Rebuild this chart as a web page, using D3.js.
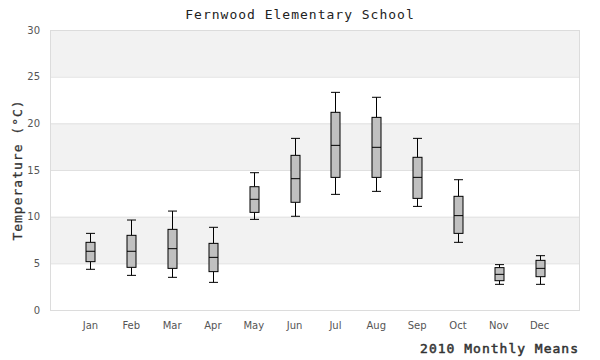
<!DOCTYPE html>
<html><head><meta charset="utf-8">
<script src="https://cdn.jsdelivr.net/npm/d3@7"></script>
<style>body{margin:0;background:#fff}</style>
</head><body>
<svg id="c" width="600" height="360"></svg>
<script>
const months = ["Jan","Feb","Mar","Apr","May","Jun","Jul","Aug","Sep","Oct","Nov","Dec"];
const whiskerLow  = [4.36,3.71,3.5,2.96,9.71,10.04,12.39,12.71,11.1,7.25,2.75,2.75];
const q1          = [5.18,4.57,4.46,4.11,10.46,11.54,14.21,14.21,11.96,8.21,3.14,3.57];
const median      = [6.29,6.29,6.57,5.64,11.86,14.07,17.64,17.43,14.21,10.11,3.82,4.46];
const q3          = [7.25,8.0,8.64,7.14,13.21,16.57,21.18,20.64,16.36,12.18,4.54,5.32];
const whiskerHigh = [8.21,9.64,10.6,8.86,14.71,18.39,23.32,22.79,18.39,13.96,4.86,5.82];
const yTicks = [0,5,10,15,20,25,30];

const svg = d3.select("#c");
const L=50,R=580,T=30,B=310;
const x = d3.scaleBand().domain(months).range([70,560]);
const y = d3.scaleLinear().domain([0,30]).range([B,T]);

// bands
const bands = d3.range(0,30,5);
svg.append("g").selectAll("rect").data(bands).join("rect")
  .attr("x",L).attr("width",R-L)
  .attr("y",d=>y(d+5)).attr("height",d=>y(d)-y(d+5))
  .attr("fill",d=>(d/5)%2===1?"#f2f2f2":"#ffffff");
// grid
svg.append("g").selectAll("line").data(yTicks).join("line")
  .attr("x1",L).attr("x2",R).attr("y1",d=>y(d)+0.5).attr("y2",d=>y(d)+0.5)
  .attr("stroke","#e0e0e0");
svg.append("rect").attr("x",L+0.5).attr("y",T+0.5).attr("width",R-L-1).attr("height",B-T)
  .attr("fill","none").attr("stroke","#dcdcdc");

// y axis
const ya = svg.append("g").attr("transform",`translate(${L},0)`)
  .call(d3.axisLeft(y).tickValues(yTicks).tickSize(0).tickPadding(10));
ya.select(".domain").remove();
ya.selectAll("text").attr("font-family","DejaVu Sans").attr("font-size",10).attr("fill","#555");

// x axis
const xa = svg.append("g").attr("transform",`translate(0,${B})`)
  .call(d3.axisBottom(x).tickSize(0).tickPadding(12));
xa.select(".domain").remove();
xa.selectAll("text").attr("font-family","DejaVu Sans").attr("font-size",10).attr("fill","#555");

// boxes
const bw = 9;
const data = months.map((m,i)=>({m,lo:whiskerLow[i],q1:q1[i],med:median[i],q3:q3[i],hi:whiskerHigh[i]}));
const g = svg.append("g").selectAll("g").data(data).join("g")
  .attr("transform",d=>`translate(${Math.round(x(d.m)+x.bandwidth()/2)+0.5},0)`);
g.append("line").attr("x1",0).attr("x2",0).attr("y1",d=>y(d.hi)).attr("y2",d=>y(d.q3)).attr("stroke","#000");
g.append("line").attr("x1",0).attr("x2",0).attr("y1",d=>y(d.q1)).attr("y2",d=>y(d.lo)).attr("stroke","#000");
g.append("line").attr("x1",-bw/2).attr("x2",bw/2).attr("y1",d=>y(d.hi)).attr("y2",d=>y(d.hi)).attr("stroke","#000");
g.append("line").attr("x1",-bw/2).attr("x2",bw/2).attr("y1",d=>y(d.lo)).attr("y2",d=>y(d.lo)).attr("stroke","#000");
g.append("rect").attr("x",-bw/2).attr("width",bw).attr("y",d=>y(d.q3)).attr("height",d=>y(d.q1)-y(d.q3))
  .attr("fill","#c0c0c0").attr("stroke","#000");
g.append("line").attr("x1",-bw/2).attr("x2",bw/2).attr("y1",d=>y(d.med)).attr("y2",d=>y(d.med)).attr("stroke","#000");

// titles
const mono = "DejaVu Sans Mono";
svg.append("text").attr("x",300).attr("y",19).attr("text-anchor","middle")
  .attr("font-family",mono).attr("font-size",13).attr("letter-spacing",1).attr("fill","#222")
  .text("Fernwood Elementary School");
svg.append("text").attr("transform","translate(22,170) rotate(-90)").attr("text-anchor","middle")
  .attr("font-family",mono).attr("font-size",13).attr("letter-spacing",1).attr("fill","#333")
  .attr("stroke","#333").attr("stroke-width",0.3)
  .text("Temperature (°C)");
svg.append("text").attr("x",579).attr("y",353).attr("text-anchor","end")
  .attr("font-family",mono).attr("font-size",13).attr("letter-spacing",1).attr("fill","#333")
  .attr("stroke","#333").attr("stroke-width",0.5)
  .text("2010 Monthly Means");
</script>
</body></html>
